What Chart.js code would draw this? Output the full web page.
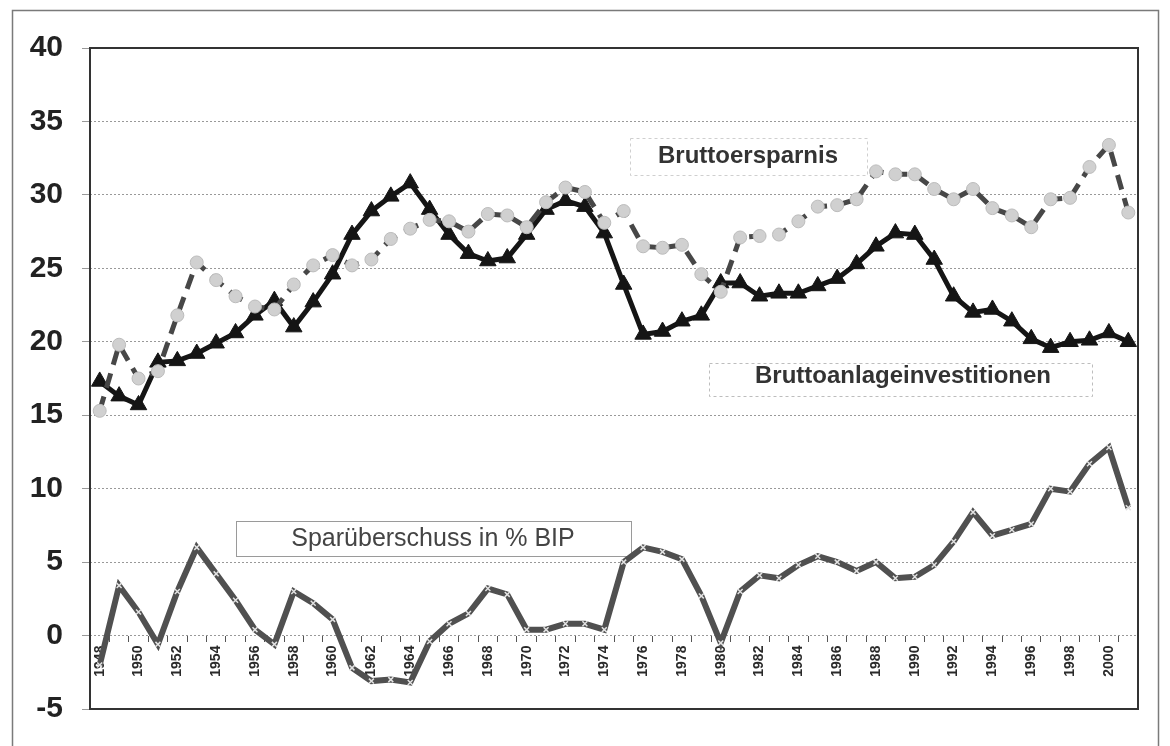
<!DOCTYPE html>
<html><head><meta charset="utf-8">
<script src="https://cdn.jsdelivr.net/npm/chart.js@4.4.1/dist/chart.umd.min.js"></script>
<style>html,body{margin:0;padding:0;background:#fff;} canvas{display:block;}</style>
</head><body>
<canvas id="c" width="1170" height="746"></canvas>
<script>
const years = ['1948','1949','1950','1951','1952','1953','1954','1955','1956','1957','1958','1959','1960','1961','1962','1963','1964','1965','1966','1967','1968','1969','1970','1971','1972','1973','1974','1975','1976','1977','1978','1979','1980','1981','1982','1983','1984','1985','1986','1987','1988','1989','1990','1991','1992','1993','1994','1995','1996','1997','1998','1999','2000','2001'];
const bruttoersparnis = [15.3,19.8,17.5,18.0,21.8,25.4,24.2,23.1,22.4,22.2,23.9,25.2,25.9,25.2,25.6,27.0,27.7,28.3,28.2,27.5,28.7,28.6,27.8,29.5,30.5,30.2,28.1,28.9,26.5,26.4,26.6,24.6,23.4,27.1,27.2,27.3,28.2,29.2,29.3,29.7,31.6,31.4,31.4,30.4,29.7,30.4,29.1,28.6,27.8,29.7,29.8,31.9,33.4,28.8];
const bruttoanlageinvestitionen = [17.3,16.3,15.7,18.6,18.7,19.2,19.9,20.6,21.8,22.8,21.0,22.7,24.6,27.3,28.9,29.9,30.8,29.0,27.3,26.0,25.5,25.7,27.3,29.0,29.6,29.2,27.4,23.9,20.5,20.7,21.4,21.8,24.0,24.0,23.1,23.3,23.3,23.8,24.3,25.3,26.5,27.4,27.3,25.6,23.1,22.0,22.2,21.4,20.2,19.6,20.0,20.1,20.6,20.0];
const sparueberschuss = [-2.0,3.4,1.6,-0.6,3.0,6.0,4.2,2.4,0.4,-0.6,3.0,2.2,1.1,-2.2,-3.1,-3.0,-3.2,-0.4,0.8,1.5,3.2,2.8,0.4,0.4,0.8,0.8,0.4,5.0,6.0,5.7,5.2,2.7,-0.5,3.0,4.1,3.9,4.8,5.4,5.0,4.4,5.0,3.9,4.0,4.8,6.4,8.4,6.8,7.2,7.6,10.0,9.8,11.7,12.8,8.7];
const seriesNames = ['Bruttoersparnis','Bruttoanlageinvestitionen','Sparüberschuss in % BIP'];
const yMin = -5, yMax = 40, yStep = 5;

const FONT = "'Liberation Sans', Arial, sans-serif";

const decor = {
  id: 'decor',
  beforeDraw(chart) {
    const ctx = chart.ctx;
    ctx.save();
    ctx.fillStyle = '#fff';
    ctx.fillRect(0, 0, chart.width, chart.height);
    ctx.strokeStyle = '#7a7a7a';
    ctx.lineWidth = 1.5;
    ctx.strokeRect(12.5, 10.5, 1146, 800);
    ctx.restore();
  },
  beforeDatasetsDraw(chart) {
    const ctx = chart.ctx;
    const a = chart.chartArea;
    ctx.save();
    ctx.strokeStyle = '#333';
    ctx.lineWidth = 2;
    ctx.strokeRect(a.left, a.top, a.right - a.left, a.bottom - a.top);
    const boxes = [
      {t: seriesNames[0], x1: 630, y1: 138, x2: 867, y2: 175, cx: 748, cy: 156, bold: true, border: '#cfcfcf', dash: [3,3]},
      {t: seriesNames[1], x1: 709, y1: 363, x2: 1092, y2: 396, cx: 903, cy: 376, bold: true, border: '#bdbdbd', dash: [3,3]},
      {t: seriesNames[2], x1: 236, y1: 521, x2: 631, y2: 556, cx: 433, cy: 539, bold: false, border: '#9a9a9a', dash: []}
    ];
    boxes.forEach(b => {
      ctx.setLineDash(b.dash);
      ctx.lineWidth = 1;
      ctx.strokeStyle = b.border;
      ctx.strokeRect(b.x1 + 0.5, b.y1 + 0.5, b.x2 - b.x1, b.y2 - b.y1);
      ctx.setLineDash([]);
      ctx.fillStyle = b.bold ? '#333' : '#444';
      ctx.font = (b.bold ? 'bold 24px ' : '25px ') + FONT;
      ctx.textAlign = 'center';
      ctx.textBaseline = 'middle';
      ctx.fillText(b.t, b.cx, b.cy);
    });
    ctx.restore();
  }
};

new Chart(document.getElementById('c'), {
  type: 'line',
  data: {
    labels: years,
    datasets: [
      {label: seriesNames[0], data: bruttoersparnis, order: 0, borderColor: '#474747', borderWidth: 5, borderDash: [15, 9],
       pointStyle: 'circle', pointRadius: 6.5, pointBackgroundColor: '#d0d0d0', pointBorderColor: '#bcbcbc', pointBorderWidth: 1, tension: 0},
      {label: seriesNames[1], data: bruttoanlageinvestitionen, order: 1, borderColor: '#151515', borderWidth: 5,
       pointStyle: 'triangle', pointRadius: 9.5, pointBackgroundColor: '#151515', pointBorderColor: '#151515', pointBorderWidth: 1, tension: 0},
      {label: seriesNames[2], data: sparueberschuss, order: 2, borderColor: '#505050', borderWidth: 6,
       pointStyle: 'crossRot', pointRadius: 3.5, pointBorderColor: '#e2e2e2', pointBackgroundColor: '#e2e2e2', pointBorderWidth: 1.5, tension: 0}
    ]
  },
  options: {
    responsive: false,
    animation: false,
    devicePixelRatio: 1,
    layout: {padding: {left: 20, top: 48, right: 32, bottom: 35}},
    plugins: {legend: {display: false}, tooltip: {enabled: false}},
    scales: {
      x: {
        type: 'category', offset: true, position: {y: 0},
        grid: {display: true, drawOnChartArea: false, drawTicks: true, tickLength: 6, offset: true, color: '#555', lineWidth: 1},
        border: {display: false},
        ticks: {autoSkip: false, minRotation: 90, maxRotation: 90, padding: 4, color: '#2a2a2a',
          font: {family: FONT, size: 14, weight: 'bold'},
          callback: function(v, i) { return i % 2 === 0 ? years[i] : ''; }}
      },
      y: {
        min: yMin, max: yMax,
        afterFit: (s) => { s.width = 70; },
        ticks: {stepSize: yStep, padding: 19, color: '#222', font: {family: FONT, size: 30, weight: 'bold'}},
        grid: {color: '#999', lineWidth: 1, tickLength: 8, drawTicks: true},
        border: {display: false, dash: [2, 2]}
      }
    }
  },
  plugins: [decor]
});
</script>
</body></html>
